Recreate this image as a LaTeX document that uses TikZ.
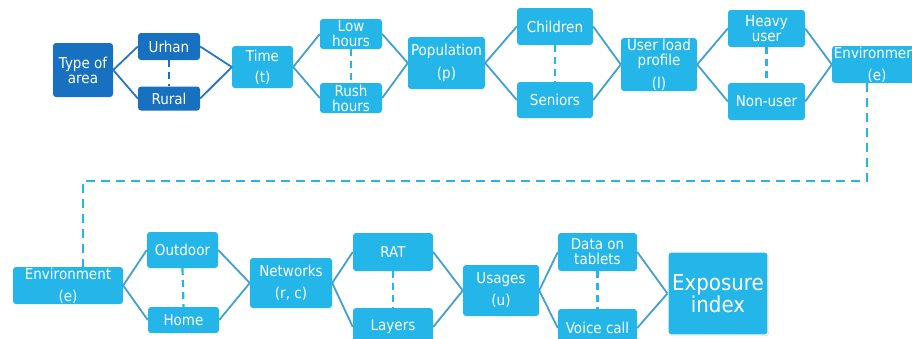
\documentclass[tikz,border=0pt]{standalone}
\usepackage{fontspec}
\setmainfont{DejaVu Sans}[FakeStretch=0.9]
\usetikzlibrary{shadows}
\definecolor{lb}{RGB}{36,182,232}
\definecolor{db}{RGB}{24,112,192}
\definecolor{ln}{RGB}{66,160,210}
\definecolor{dln}{RGB}{40,118,196}
\tikzset{
 box/.style={fill=lb, rounded corners=3pt, text=white, inner sep=0pt, align=center, font=\fontsize{15}{15}\selectfont},
 dbox/.style={box, fill=db},
 conn/.style={draw=ln, line width=1.8pt},
 dconn/.style={conn, draw=dln},
 vdash/.style={draw=lb, line width=2.2pt, dash pattern=on 7pt off 5pt},
 dvdash/.style={vdash, draw=db},
}
\begin{document}
\begin{tikzpicture}[x=1pt,y=-1pt]
\useasboundingbox (0,0) rectangle (912,338);
\fill[white] (0,0) rectangle (912,338);
\clip (0,0) rectangle (912,338);
% top row
\node[dbox, minimum width=60, minimum height=54] (area) at (83,70) {Type of\\area};
\node[dbox, minimum width=62, minimum height=27] (urhan) at (169,46.5) {Urhan};
\node[dbox, minimum width=62, minimum height=24] (rural) at (169,98.5) {Rural};
\node[box, minimum width=61, minimum height=42] (time) at (262.5,67) {Time\\[6pt](t)};
\node[box, minimum width=62, minimum height=30] (low) at (351,34) {Low\\hours};
\node[box, minimum width=62, minimum height=30] (rush) at (351,98) {Rush\\hours};
\node[box, minimum width=77, minimum height=52] (pop) at (446.5,63) {Population\\[8pt](p)};
\node[box, minimum width=76, minimum height=37] (child) at (555,26.5) {Children};
\node[box, minimum width=76, minimum height=36] (senior) at (555,100) {Seniors};
\node[box, minimum width=76, minimum height=53] (ulp) at (659,64.5) {User load\\profile\\[8pt](l)};
\node[box, minimum width=77, minimum height=37] (heavy) at (766.5,28.5) {Heavy\\user};
\node[box, minimum width=77, minimum height=37] (nonuser) at (766.5,101.5) {Non-user};
\node[box, minimum width=90, minimum height=37] (envA) at (877,64.5) {Environment\\[7pt](e)};
% bottom row
\node[box, minimum width=110, minimum height=37] (envB) at (68,285.5) {Environment\\[7pt](e)};
\node[box, minimum width=71, minimum height=36] (outdoor) at (182.5,250) {Outdoor};
\node[box, minimum width=71, minimum height=26] (home) at (183.5,320) {Home};
\node[box, minimum width=82, minimum height=50] (net) at (291,283) {Networks\\[7pt](r, c)};
\node[box, minimum width=80, minimum height=38] (rat) at (393,252) {RAT};
\node[box, minimum width=80, minimum height=38] (layers) at (393,327) {Layers};
\node[box, minimum width=76, minimum height=51] (usage) at (501,290.5) {Usages\\[7pt](u)};
\node[box, minimum width=79, minimum height=38] (data) at (597.5,252) {Data on\\tablets};
\node[box, minimum width=79, minimum height=38] (voice) at (597.5,328) {Voice call};
\node[box, draw=white, line width=1.2pt, drop shadow={shadow xshift=0.8pt, shadow yshift=-1.2pt, opacity=0.3}, minimum width=100, minimum height=83, font=\fontsize{22}{21}\selectfont] (expo) at (718,293.5) {Exposure\\index};
% connectors top
\draw[dconn] (area.east) -- (urhan.west);
\draw[dconn] (area.east) -- (rural.west);
\draw[dconn] (urhan.east) -- (time.west);
\draw[dconn] (rural.east) -- (time.west);
\draw[dvdash] (urhan.south) -- (rural.north);
\draw[conn] (time.east) -- (low.west);
\draw[conn] (time.east) -- (rush.west);
\draw[conn] (low.east) -- (pop.west);
\draw[conn] (rush.east) -- (pop.west);
\draw[vdash] (low.south) -- (rush.north);
\draw[conn] (pop.east) -- (child.west);
\draw[conn] (pop.east) -- (senior.west);
\draw[conn] (child.east) -- (ulp.west);
\draw[conn] (senior.east) -- (ulp.west);
\draw[vdash] (child.south) -- (senior.north);
\draw[conn] (ulp.east) -- (heavy.west);
\draw[conn] (ulp.east) -- (nonuser.west);
\draw[conn] (heavy.east) -- (envA.west);
\draw[conn] (nonuser.east) -- (envA.west);
\draw[vdash] (heavy.south) -- (nonuser.north);
% long dashed link
\coordinate (turn) at (475,181);
\draw[draw=lb, line width=2.2pt, dash pattern=on 9pt off 6pt] ([xshift=-10pt]envA.south) |- (turn) -| ([xshift=15pt]envB.north);
% connectors bottom
\draw[conn] (envB.east) -- (outdoor.west);
\draw[conn] (envB.east) -- (home.west);
\draw[conn] (outdoor.east) -- (net.west);
\draw[conn] (home.east) -- (net.west);
\draw[vdash] (outdoor.south) -- (home.north);
\draw[conn] (net.east) -- (rat.west);
\draw[conn] (net.east) -- (layers.west);
\draw[conn] (rat.east) -- (usage.west);
\draw[conn] (layers.east) -- (usage.west);
\draw[vdash] (rat.south) -- (layers.north);
\draw[conn] (usage.east) -- (data.west);
\draw[conn] (usage.east) -- (voice.west);
\draw[conn] (data.east) -- (expo.west);
\draw[conn] (voice.east) -- (expo.west);
\draw[vdash] (data.south) -- (voice.north);
\end{tikzpicture}
\end{document}
